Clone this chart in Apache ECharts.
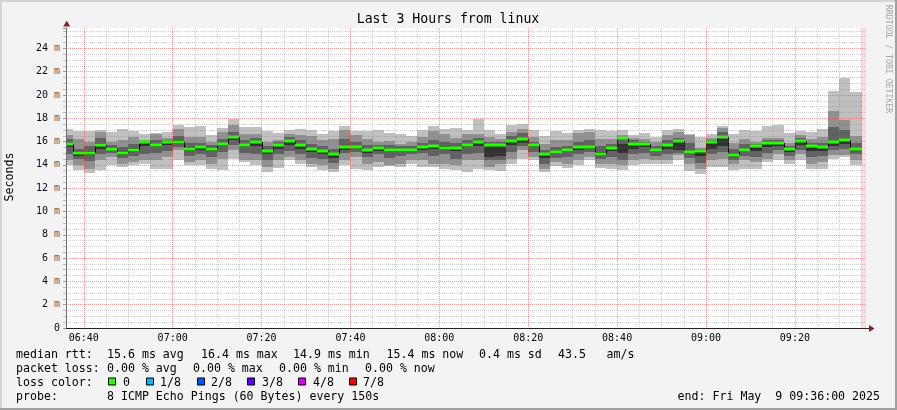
<!DOCTYPE html>
<html><head><meta charset="utf-8">
<script src="https://cdn.jsdelivr.net/npm/echarts@6/dist/echarts.min.js"></script>
<style>html,body{margin:0;padding:0;background:#f3f3f3}#c{width:897px;height:410px}</style>
</head><body><div id="c"></div>
<script>
// ---------- text ----------
const chartTitle = 'Last 3 Hours from linux';
const yAxisName = 'Seconds';
const watermark = 'RRDTOOL / TOBI OETIKER';
const endText = 'end: Fri May  9 09:36:00 2025';

// ---------- time axis (minutes since midnight) ----------
const axisStartMin = 6 * 60 + 36;   // 06:36
const axisEndMin = 9 * 60 + 36;     // 09:36
const firstStepMin = 6 * 60 + 35;   // 06:35:00, first rrd step start
const stepMin = 2.5;                // 150 s step
const yMax = 25.75;

// ---------- data (ms) : 72 steps ----------
const median = [15.80,15.06,15.06,15.74,15.40,15.06,15.31,15.94,15.71,15.97,
15.97,15.40,15.51,15.40,15.80,16.40,15.71,15.94,15.23,15.71,
16.03,15.71,15.34,15.20,14.91,15.54,15.54,15.26,15.43,15.29,
15.29,15.26,15.54,15.63,15.49,15.49,15.71,15.94,15.74,15.69,
16.06,16.26,15.74,14.91,15.14,15.29,15.54,15.54,14.94,15.49,
16.34,15.77,15.77,15.29,15.74,16.09,15.09,15.17,15.94,16.37,
14.89,15.31,15.60,15.86,15.86,15.37,16.09,15.60,15.54,15.97,
16.11,15.40];
const ping8 = [17.11,16.91,16.91,17.03,16.83,17.11,16.91,16.63,16.74,16.83,
17.40,17.26,17.31,16.54,17.20,17.97,17.26,17.26,16.91,16.74,
17.03,17.11,16.97,16.63,16.91,17.31,16.91,16.91,16.97,16.74,
16.69,16.46,16.97,17.31,17.11,17.20,16.97,17.97,17.03,16.63,
17.40,17.54,16.97,16.46,16.91,16.74,16.97,17.11,16.97,16.91,
17.03,16.54,16.72,16.40,17.03,17.11,16.69,16.40,16.69,17.31,
16.63,17.03,16.91,17.31,17.40,16.74,16.91,16.83,17.11,20.34,
21.49,20.26];
const ping7 = [16.54,16.26,15.97,16.83,15.97,16.11,16.40,16.11,16.69,16.30,
17.11,16.40,16.40,15.97,16.83,17.40,16.69,16.63,15.97,16.11,
16.69,16.54,16.46,16.11,16.26,16.97,16.60,16.26,15.97,16.06,
15.83,15.97,16.40,16.91,16.69,16.34,16.63,16.69,16.40,16.26,
16.83,17.11,16.40,15.83,16.11,16.11,16.74,16.83,16.26,16.26,
16.54,16.34,16.26,15.97,16.54,16.83,16.54,15.49,16.30,17.20,
15.89,16.26,15.97,16.34,16.34,15.89,16.54,16.26,16.40,18.63,
17.83,16.46];
const ping6 = [16.2,15.4,15.6,16.3,15.7,15.5,15.8,16.05,16.1,16.15,
16.5,15.9,15.9,15.7,16.2,16.8,16.1,16.3,15.6,15.95,
16.4,16.1,15.8,15.6,15.4,16.2,16.0,15.69,15.75,15.7,
15.6,15.6,15.9,16.1,16.0,15.9,16.1,16.3,16.0,16.0,
16.5,16.7,16.0,15.3,15.5,15.6,16.0,16.1,15.6,15.8,
16.4,16.1,16.0,15.6,16.1,16.3,15.9,15.4,16.1,16.8,
15.4,15.8,15.8,16.1,16.1,15.6,16.3,15.9,15.9,17.26,
16.97,15.9];
const ping5 = [15.9,15.2,15.2,15.85,15.5,15.2,15.45,16.0,15.8,16.05,
16.1,15.5,15.6,15.5,15.9,16.5,15.8,16.0,15.3,15.8,
16.1,15.8,15.45,15.3,15.0,15.65,15.65,15.35,15.5,15.4,
15.4,15.35,15.6,15.7,15.6,15.55,15.8,16.0,15.8,15.75,
16.1,16.3,15.8,15.0,15.2,15.35,15.6,15.6,15.1,15.55,
15.8,15.85,15.85,15.4,15.8,16.15,15.15,15.25,15.98,16.4,
15.0,15.4,15.65,15.9,15.9,15.4,16.15,15.65,15.6,16.0,
16.15,15.45];
const ping4 = [15.5,14.8,14.85,15.4,15.25,14.85,15.1,15.6,15.5,15.7,
15.8,15.2,15.3,15.2,15.6,16.1,15.5,15.6,14.9,15.4,
15.7,15.4,15.1,14.9,14.6,15.3,15.35,15.0,15.2,15.1,
15.1,15.1,15.3,15.4,15.3,15.2,15.5,15.6,14.7,14.8,
15.7,15.9,15.5,14.6,14.95,15.1,15.3,15.4,14.8,15.2,
15.0,15.4,15.5,15.1,15.4,15.3,14.9,14.8,15.4,15.6,
14.7,15.1,15.2,15.5,15.6,15.1,15.7,15.2,15.2,15.6,
15.8,15.2];
const ping3 = [14.9,14.54,14.3,14.9,15.0,14.6,14.8,14.9,15.0,15.2,
15.5,14.8,14.9,14.7,15.1,15.7,15.0,14.9,14.4,14.9,
15.2,14.9,14.6,14.5,14.2,15.0,15.1,14.69,14.9,14.6,
14.8,14.9,15.0,14.8,14.9,14.5,14.9,15.0,14.4,14.4,
15.1,15.6,15.1,14.1,14.6,14.7,14.9,15.1,14.5,14.7,
14.4,14.9,15.0,14.8,14.9,15.0,14.6,14.2,14.9,15.1,
14.4,14.8,14.7,15.0,15.3,14.8,15.3,14.7,14.8,15.26,
15.4,14.9];
const ping2 = [14.40,13.97,13.69,14.40,14.69,14.11,14.26,14.40,14.40,14.69,
15.26,14.26,14.40,14.11,14.54,15.26,14.40,14.40,13.83,14.40,
14.69,14.40,14.11,13.97,13.69,14.40,14.69,14.11,14.26,13.97,
14.11,14.40,14.40,14.11,14.11,13.97,14.40,14.40,13.83,14.11,
14.54,15.26,14.69,13.69,14.26,14.11,14.40,14.69,14.11,14.11,
13.97,14.40,14.54,14.40,14.40,14.83,14.11,13.69,14.40,14.54,
14.11,14.40,14.26,14.54,14.97,14.40,14.97,14.11,14.26,14.83,
14.83,14.40];
const ping1 = [13.97,13.54,13.31,13.60,13.97,13.83,13.97,14.11,13.69,13.69,
14.40,13.97,13.97,13.69,13.60,14.54,14.26,13.97,13.40,13.77,
14.40,14.11,13.83,13.54,13.40,13.97,13.69,13.54,13.83,13.89,
13.83,14.11,13.83,13.83,13.69,13.54,13.40,13.69,13.60,13.49,
14.11,14.54,14.40,13.40,13.89,13.77,13.97,14.40,13.77,13.69,
13.54,13.97,14.06,14.11,14.06,14.40,13.49,13.26,13.83,13.83,
13.54,13.69,13.69,14.26,14.46,14.11,14.40,13.69,13.69,14.54,
14.69,13.97];

// ---------- legend ----------
const medianStats = ['median rtt:', '15.6 ms avg', '16.4 ms max', '14.9 ms min', '15.4 ms now', '0.4 ms sd', '43.5', 'am/s'];
const lossStats = ['packet loss:', '0.00 % avg', '0.00 % max', '0.00 % min', '0.00 % now'];
const lossColorLabel = 'loss color:';
const lossLabels = ['0', '1/8', '2/8', '3/8', '4/8', '7/8'];
const lossColors = ['#26ff00', '#00b8ff', '#0059ff', '#5e00ff', '#dd00ff', '#ff0000'];
const probeLine = ['probe:', '8 ICMP Echo Pings (60 Bytes) every 150s'];

// ---------- styles / layout ----------
const MONO = '"DejaVu Sans Mono", monospace';
const GRID = {left: 66, top: 28, right: 31, bottom: 82};
const smokeColors = ['#c0c0c0', '#919191', '#616161', '#323232'];
const medStats_x = [16, 107, 201, 293, 386.5, 479, 558, 606.5];
const lossStats_x = [16, 107, 193, 279, 365];
const lossBox_x = [108, 146, 197, 247, 298, 349];
const lossLab_x = [123, 160, 211, 262, 313, 363];
const rowY = [354.5, 368.5, 382.5, 396.5];

const fmtTime = m => {
  const h = Math.floor(m / 60), mm = Math.round(m - h * 60);
  return String(h).padStart(2, '0') + ':' + String(mm).padStart(2, '0');
};
const stepStart = median.map((_, k) => firstStepMin + k * stepMin);

function bandData(lo, hi) { return stepStart.map((x, k) => [x, lo[k], hi[k]]); }

function clipR(r, cs) {
  return echarts.graphic.clipRectByRect(r, {x: cs.x, y: cs.y, width: cs.width, height: cs.height});
}
function bandRender(color) {
  return function (params, api) {
    const x0 = api.value(0);
    const a = api.coord([x0, api.value(2)]);
    const b = api.coord([x0 + stepMin, api.value(1)]);
    const xa = Math.round(a[0]), xb = Math.round(b[0]);
    const ya = Math.round(a[1]), yb = Math.round(b[1]);
    const r = clipR({x: xa, y: ya, width: xb - xa, height: yb - ya}, params.coordSys);
    return r && {type: 'rect', shape: r, style: {fill: color}};
  };
}
function medianRender(params, api) {
  const x0 = api.value(0), m = api.value(1), prev = api.value(2);
  const p = api.coord([x0, m]);
  const q = api.coord([x0 + stepMin, m]);
  const xa = Math.round(p[0]), xb = Math.round(q[0]);
  const cs = params.coordSys;
  const children = [];
  if (!isNaN(prev) && xa >= cs.x) {
    const pp = api.coord([x0, prev]);
    children.push({type: 'line', shape: {x1: xa + 0.5, y1: Math.round(pp[1]), x2: xa + 0.5, y2: Math.round(p[1])},
      style: {stroke: '#000', lineWidth: 1}});
  }
  const r = clipR({x: xa, y: Math.round(p[1]) - 1.5, width: xb - xa, height: 3}, cs);
  if (r) children.push({type: 'rect', shape: r, style: {fill: lossColors[0]}});
  return {type: 'group', children};
}
const medianData = stepStart.map((x, k) => [x, median[k], k > 0 ? median[k - 1] : NaN]);

const gridMinor = 'rgba(120,120,120,0.35)';
const gridMajor = 'rgba(235,60,60,0.5)';

// ---------- graphic (texts, legend, frame) ----------
const g = [];
const txt = (x, y, text) => ({type: 'text', x, y, z: 100,
  style: {text, font: '11.6px ' + MONO, fill: '#000', textVerticalAlign: 'middle', verticalAlign: 'middle'}});
g.push({type: 'rect', shape: {x: 0, y: 0, width: 897, height: 2}, style: {fill: '#d4d4d4'}, z: 100});
g.push({type: 'rect', shape: {x: 0, y: 0, width: 2, height: 410}, style: {fill: '#d4d4d4'}, z: 100});
g.push({type: 'rect', shape: {x: 895, y: 0, width: 2, height: 410}, style: {fill: '#a0a0a0'}, z: 100});
g.push({type: 'rect', shape: {x: 0, y: 408, width: 897, height: 2}, style: {fill: '#a0a0a0'}, z: 100});
// title
g.push({type: 'text', x: 448, y: 19.5, z: 100, style: {text: chartTitle, font: '13.2px ' + MONO, fill: '#000',
  textAlign: 'center', align: 'center', textVerticalAlign: 'middle', verticalAlign: 'middle'}});
// y name
g.push({type: 'text', x: 10, y: 177, rotation: Math.PI / 2, z: 100, style: {text: yAxisName, font: '11.6px ' + MONO, fill: '#000',
  textAlign: 'center', align: 'center', textVerticalAlign: 'middle', verticalAlign: 'middle'}});
// watermark
g.push({type: 'text', x: 888, y: 59, rotation: -Math.PI / 2, z: 100, style: {text: watermark, font: '8.2px ' + MONO, fill: '#a6a6a6',
  textAlign: 'center', align: 'center', textVerticalAlign: 'middle', verticalAlign: 'middle'}});
// axis arrows
g.push({type: 'polygon', z: 100, shape: {points: [[63.2, 26.5], [70.2, 26.5], [66.7, 20.7]]}, style: {fill: '#8b1a1a'}});
g.push({type: 'line', z: 100, shape: {x1: 866, y1: 328.5, x2: 869, y2: 328.5}, style: {stroke: '#222', lineWidth: 1}});
g.push({type: 'polygon', z: 100, shape: {points: [[869, 325], [869, 332], [874.5, 328.5]]}, style: {fill: '#8b1a1a'}});
// legend rows
medianStats.forEach((t, i) => g.push(txt(medStats_x[i], rowY[0], t)));
lossStats.forEach((t, i) => g.push(txt(lossStats_x[i], rowY[1], t)));
g.push(txt(16, rowY[2], lossColorLabel));
lossLabels.forEach((t, i) => {
  g.push({type: 'rect', z: 100, shape: {x: lossBox_x[i] + 0.5, y: rowY[2] - 4.5, width: 7, height: 7},
    style: {fill: lossColors[i], stroke: '#000', lineWidth: 1}});
  g.push(txt(lossLab_x[i], rowY[2], t));
});
g.push(txt(16, rowY[3], probeLine[0]));
g.push(txt(107, rowY[3], probeLine[1]));
g.push({type: 'text', x: 880, y: rowY[3], z: 100, style: {text: endText, font: '11.6px ' + MONO, fill: '#000',
  textAlign: 'right', align: 'right', textVerticalAlign: 'middle', verticalAlign: 'middle'}});

const bandPairs = [[ping1, ping8], [ping2, ping7], [ping3, ping6], [ping4, ping5]];
const series = bandPairs.map((pr, i) => ({
  type: 'custom', name: 'smoke' + (i + 1), renderItem: bandRender(smokeColors[i]),
  data: bandData(pr[0], pr[1]), z: 2 + i * 0.01, silent: true, animation: false,
  encode: {x: 0, y: [1, 2]}
}));
series.push({type: 'custom', name: 'median', renderItem: medianRender, data: medianData, z: 3, silent: true,
  animation: false, encode: {x: 0, y: 1},
  markArea: {silent: true, itemStyle: {color: 'rgba(255,110,110,0.25)'}, data: [[{xAxis: 9 * 60 + 35}, {xAxis: axisEndMin}]]}});

const chart = echarts.init(document.getElementById('c'), null, {renderer: 'canvas'});
chart.setOption({
  animation: false,
  backgroundColor: '#f3f3f3',
  grid: Object.assign({show: true, backgroundColor: '#ffffff', borderWidth: 0}, GRID),
  xAxis: {
    type: 'value', min: axisStartMin, max: axisEndMin, splitNumber: 9, minInterval: 20, maxInterval: 20, z: 5,
    axisLine: {show: true, onZero: false, lineStyle: {color: '#222', width: 1}},
    axisTick: {show: false},
    axisLabel: {show: true, margin: 5, fontFamily: MONO, fontSize: 10, color: '#000',
      formatter: v => (Math.abs(v % 20) < 1e-6 ? fmtTime(v) : ''), showMinLabel: false, showMaxLabel: false},
    splitLine: {show: true, showMinLine: false, showMaxLine: false, lineStyle: {color: gridMajor, type: [1, 1], width: 1}},
    minorTick: {show: false, splitNumber: 4},
    minorSplitLine: {show: true, lineStyle: {color: gridMinor, type: [1, 1], width: 1}}
  },
  yAxis: {
    type: 'value', min: 0, max: yMax, splitNumber: 12, minInterval: 2, maxInterval: 2, z: 5,
    axisLine: {show: true, lineStyle: {color: '#707070', width: 1}},
    axisTick: {show: true, length: 3, lineStyle: {color: '#9a9a9a'}},
    minorTick: {show: true, splitNumber: 4, length: 3, lineStyle: {color: '#bdbdbd'}},
    axisLabel: {margin: 6, fontFamily: MONO, fontSize: 10, color: '#000',
      formatter: v => (Math.abs(v % 2) > 1e-6 ? '' : (v === 0 ? '{n|0}' : '{n|' + v + '} {u|m}')),
      rich: {n: {fontFamily: MONO, fontSize: 10, color: '#0a0a1a'}, u: {fontFamily: MONO, fontSize: 10, color: '#8f4c10'}},
      showMaxLabel: false},
    splitLine: {show: true, showMinLine: false, showMaxLine: false, lineStyle: {color: gridMajor, type: [1, 1], width: 1}},
    minorSplitLine: {show: true, lineStyle: {color: gridMinor, type: [1, 1], width: 1}}
  },
  series,
  graphic: g
});
</script>
</body></html>
